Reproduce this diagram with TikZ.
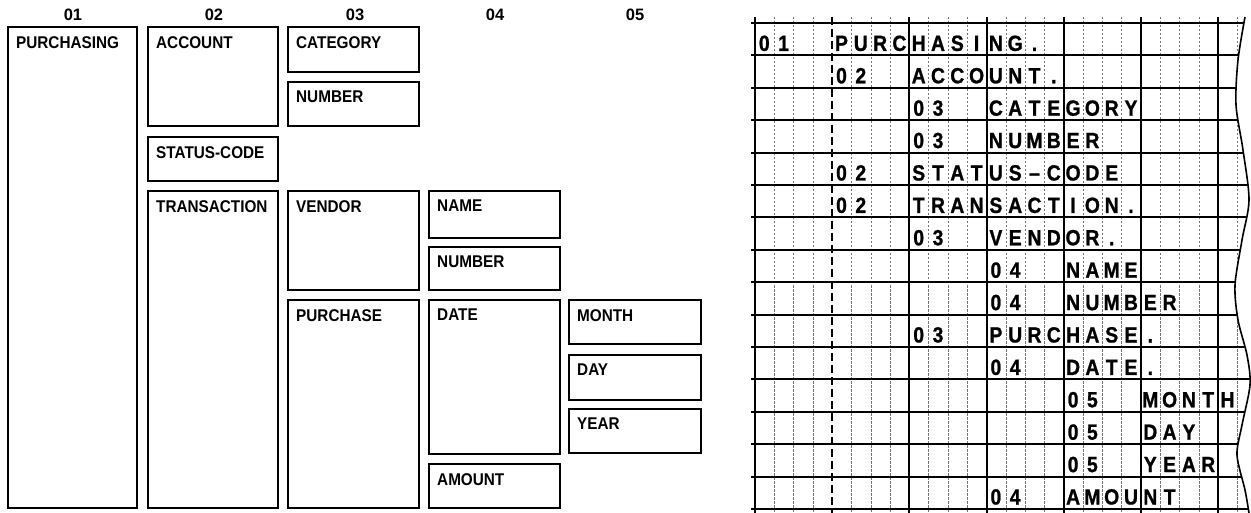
\documentclass[tikz,border=0pt]{standalone}
\usepackage{fontspec}
\setmainfont{Liberation Sans}
\newfontfamily\lblfont[FakeStretch=0.9]{Liberation Sans}
\newfontfamily\grdfont[FakeStretch=0.88,FakeBold=1]{Liberation Sans}
\tikzset{
  box/.style={draw, line width=1.3pt, rectangle, inner sep=0pt, outer sep=0pt, anchor=north west},
  lbl/.style={font=\lblfont\bfseries\fontsize{17}{19}\selectfont, inner sep=0pt, anchor=north west},
  hdr/.style={font=\bfseries\fontsize{16.5}{18}\selectfont, inner sep=0pt, anchor=center},
  gch/.style={font=\grdfont\bfseries\fontsize{22}{24}\selectfont, inner sep=0pt, anchor=base},
  thickv/.style={line width=2pt},
  thinv/.style={line width=0.5pt, black!55, dash pattern=on 2.5pt off 1.5pt},
  dashv/.style={line width=2pt, dash pattern=on 8pt off 4pt},
  rowline/.style={line width=2pt},
  wave/.style={line width=1.6pt}
}
\newcommand\ebox[6]{%
  \node[box, minimum width={#4-#2}, minimum height={#5-#3}] (#1) at (#2,#3) {};
  \node[lbl] (#1-t) at ([xshift=8pt,yshift=-9pt]#1.north west) {#6};}
\newcommand\gtext[3]{%
  \foreach \ch [count=\i from 0] in {#3} {%
    \node[gch] (g#1-#2-\i) at ({755+19.3*(#2+\i)+9.3},{23+32.4*#1-4.5}) {\ch};}}
\begin{document}
\begin{tikzpicture}[x=1pt,y=-1pt]
\useasboundingbox (0,0) rectangle (1251,513);
% level headers
\node[hdr] (h1) at (73,15) {01};
\node[hdr] (h2) at (214,15) {02};
\node[hdr] (h3) at (355,15) {03};
\node[hdr] (h4) at (495,15) {04};
\node[hdr] (h5) at (635,15) {05};
% boxes
\ebox{purchasing}{8}{27}{137}{508}{PURCHASING}
\ebox{account}{148}{27}{278}{126}{ACCOUNT}
\ebox{statuscode}{148}{137}{278}{181}{STATUS-CODE}
\ebox{transaction}{148}{191}{278}{508}{TRANSACTION}
\ebox{category}{288}{27}{419}{72}{CATEGORY}
\ebox{numberA}{288}{82}{419}{126}{NUMBER}
\ebox{vendor}{288}{191}{419}{290}{VENDOR}
\ebox{purchase}{288}{300}{419}{508}{PURCHASE}
\ebox{name}{429}{191}{560}{238}{NAME}
\ebox{numberB}{429}{247}{560}{290}{NUMBER}
\ebox{date}{429}{300}{560}{454}{DATE}
\ebox{amount}{429}{464}{560}{508}{AMOUNT}
\ebox{month}{569}{300}{701}{344}{MONTH}
\ebox{day}{569}{355}{701}{400}{DAY}
\ebox{year}{569}{409}{701}{453}{YEAR}
% coding sheet grid
\begin{scope}
\clip (740,0) -- (1245,0) -- plot[smooth] coordinates {(1245,17) (1238,60) (1236,105) (1243,150) (1249,200) (1242,240) (1235,285) (1238,320) (1247,355) (1250,385) (1242,425) (1237,455) (1245,490) (1249,513)} -- (740,513) -- cycle;
\foreach \k in {1,2,3,5,6,7,9,10,11,13,14,15,17,18,19,21,22,23,25}
  \draw[thinv] ({755+19.3*\k},17) -- ({755+19.3*\k},513);
\foreach \k in {0,8,12,16,20,24}
  \draw[thickv] ({755+19.3*\k},17) -- ({755+19.3*\k},513);
\draw[dashv] ({755+19.3*4},17) -- ({755+19.3*4},513);
\foreach \r in {0,...,15}
  \draw[rowline] (751,{23+32.4*\r}) -- (1260,{23+32.4*\r});
\end{scope}
\draw[wave] plot[smooth] coordinates {(1245,17) (1238,60) (1236,105) (1243,150) (1249,200) (1242,240) (1235,285) (1238,320) (1247,355) (1250,385) (1242,425) (1237,455) (1245,490) (1249,513)};
% grid text
\gtext{1}{0}{0,1}
\gtext{1}{4}{P,U,R,C,H,A,S,I,N,G,.}
\gtext{2}{4}{0,2}
\gtext{2}{8}{A,C,C,O,U,N,T,.}
\gtext{3}{8}{0,3}
\gtext{3}{12}{C,A,T,E,G,O,R,Y}
\gtext{4}{8}{0,3}
\gtext{4}{12}{N,U,M,B,E,R}
\gtext{5}{4}{0,2}
\gtext{5}{8}{S,T,A,T,U,S,–,C,O,D,E}
\gtext{6}{4}{0,2}
\gtext{6}{8}{T,R,A,N,S,A,C,T,I,O,N,.}
\gtext{7}{8}{0,3}
\gtext{7}{12}{V,E,N,D,O,R,.}
\gtext{8}{12}{0,4}
\gtext{8}{16}{N,A,M,E}
\gtext{9}{12}{0,4}
\gtext{9}{16}{N,U,M,B,E,R}
\gtext{10}{8}{0,3}
\gtext{10}{12}{P,U,R,C,H,A,S,E,.}
\gtext{11}{12}{0,4}
\gtext{11}{16}{D,A,T,E,.}
\gtext{12}{16}{0,5}
\gtext{12}{20}{M,O,N,T,H}
\gtext{13}{16}{0,5}
\gtext{13}{20}{D,A,Y}
\gtext{14}{16}{0,5}
\gtext{14}{20}{Y,E,A,R}
\gtext{15}{12}{0,4}
\gtext{15}{16}{A,M,O,U,N,T}
\end{tikzpicture}
\end{document}
